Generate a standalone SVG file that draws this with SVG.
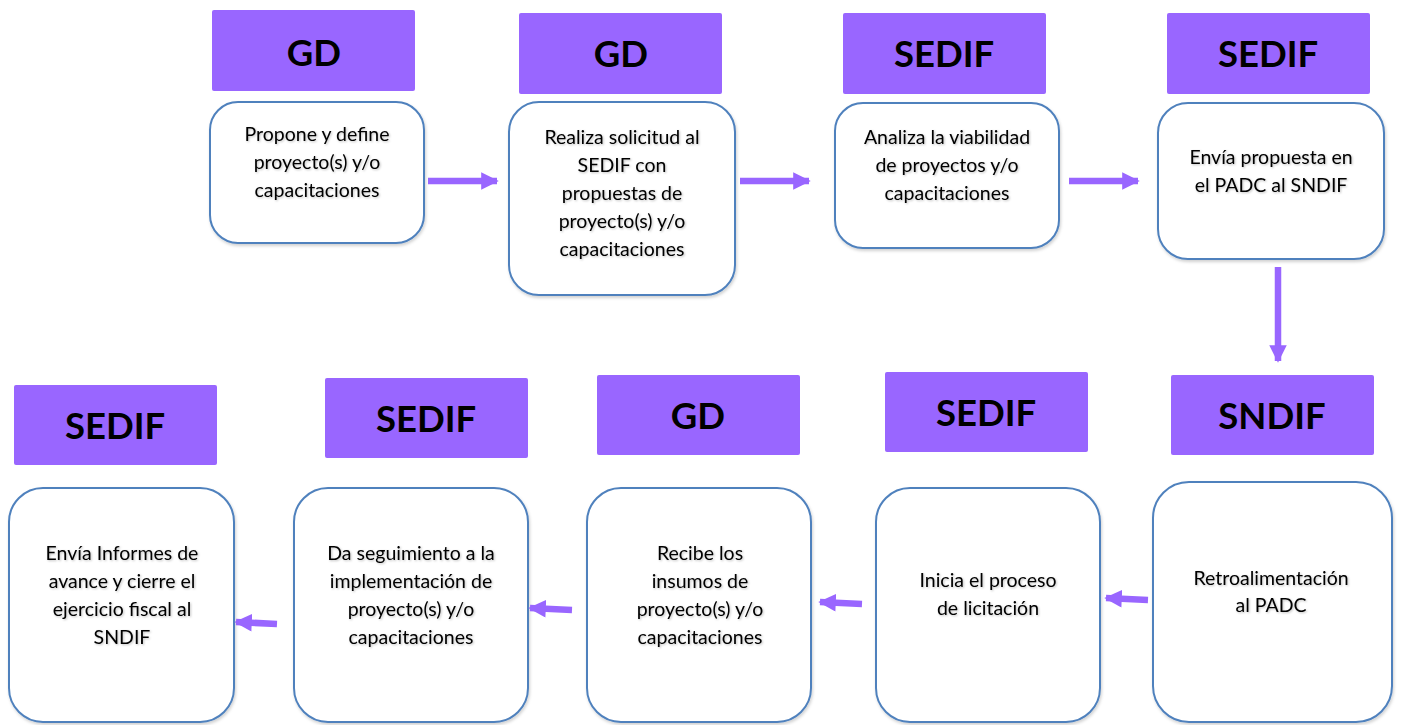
<svg xmlns="http://www.w3.org/2000/svg" width="1403" height="725" viewBox="0 0 1403 725">
<style>
.hdr{fill:#9966FF;}
.ht{font-family:Lato,"Open Sans",sans-serif;font-weight:bold;font-size:36.5px;fill:#000;text-anchor:middle;}
.box{fill:#fff;stroke:#4F81BD;stroke-width:2;}
.bt{font-family:Lato,"Liberation Sans",sans-serif;font-size:19.5px;fill:#000;text-anchor:middle;}
.con{stroke:#9966FF;stroke-width:6.5;fill:none;}
</style>
<defs>
<marker id="ah" viewBox="0 0 10 10" refX="9" refY="5" markerWidth="2.8" markerHeight="2.7" markerUnits="strokeWidth" orient="auto"><path d="M0,0 L10,5 L0,10 z" fill="#9966FF"/></marker>
<filter id="sh" x="-10%" y="-10%" width="120%" height="120%"><feDropShadow dx="1" dy="2" stdDeviation="1.5" flood-color="#000" flood-opacity="0.18"/></filter>
<filter id="ts" x="-5%" y="-20%" width="110%" height="140%"><feDropShadow dx="1" dy="1" stdDeviation="1" flood-color="#000" flood-opacity="0.25"/></filter>
</defs>

<g id="n1">
<rect class="hdr" x="212" y="10" width="203" height="81" rx="2"/>
<text class="ht" x="314" y="66">GD</text>
<rect class="box" x="210" y="102" width="214" height="141" rx="28" filter="url(#sh)"/>
<text class="bt" filter="url(#ts)"><tspan x="317" y="141">Propone y define</tspan><tspan x="317" y="169">proyecto(s) y/o</tspan><tspan x="317" y="197">capacitaciones</tspan></text>
</g>

<g id="n2">
<rect class="hdr" x="519" y="13" width="203" height="81" rx="2"/>
<text class="ht" x="621" y="67">GD</text>
<rect class="box" x="509" y="102" width="226" height="193" rx="30" filter="url(#sh)"/>
<text class="bt" filter="url(#ts)"><tspan x="622" y="144">Realiza solicitud al</tspan><tspan x="622" y="172">SEDIF con</tspan><tspan x="622" y="200">propuestas de</tspan><tspan x="622" y="228">proyecto(s) y/o</tspan><tspan x="622" y="256">capacitaciones</tspan></text>
</g>

<g id="n3">
<rect class="hdr" x="843" y="13" width="203" height="81" rx="2"/>
<text class="ht" x="944" y="67">SEDIF</text>
<rect class="box" x="835" y="103" width="224" height="145" rx="28" filter="url(#sh)"/>
<text class="bt" filter="url(#ts)"><tspan x="947" y="144">Analiza la viabilidad</tspan><tspan x="947" y="172">de proyectos y/o</tspan><tspan x="947" y="200">capacitaciones</tspan></text>
</g>

<g id="n4">
<rect class="hdr" x="1167" y="13" width="203" height="81" rx="2"/>
<text class="ht" x="1268" y="67">SEDIF</text>
<rect class="box" x="1158" y="103" width="226" height="156" rx="30" filter="url(#sh)"/>
<text class="bt" filter="url(#ts)"><tspan x="1271" y="164">Envía propuesta en</tspan><tspan x="1271" y="192">el PADC al SNDIF</tspan></text>
</g>

<g id="n5">
<rect class="hdr" x="1171" y="375" width="203" height="80" rx="2"/>
<text class="ht" x="1272" y="429">SNDIF</text>
<rect class="box" x="1153" y="482" width="239" height="240" rx="36" filter="url(#sh)"/>
<text class="bt" filter="url(#ts)"><tspan x="1271" y="585">Retroalimentación</tspan><tspan x="1271" y="612">al PADC</tspan></text>
</g>

<g id="n6">
<rect class="hdr" x="885" y="372" width="203" height="80" rx="2"/>
<text class="ht" x="986" y="426">SEDIF</text>
<rect class="box" x="876" y="488" width="224" height="234" rx="34" filter="url(#sh)"/>
<text class="bt" filter="url(#ts)"><tspan x="988" y="587">Inicia el proceso</tspan><tspan x="988" y="615">de licitación</tspan></text>
</g>

<g id="n7">
<rect class="hdr" x="597" y="375" width="203" height="80" rx="2"/>
<text class="ht" x="698" y="429">GD</text>
<rect class="box" x="587" y="488" width="224" height="234" rx="34" filter="url(#sh)"/>
<text class="bt" filter="url(#ts)"><tspan x="700" y="560">Recibe los</tspan><tspan x="700" y="588">insumos de</tspan><tspan x="700" y="616">proyecto(s) y/o</tspan><tspan x="700" y="644">capacitaciones</tspan></text>
</g>

<g id="n8">
<rect class="hdr" x="325" y="378" width="203" height="80" rx="2"/>
<text class="ht" x="426" y="432">SEDIF</text>
<rect class="box" x="294" y="488" width="234" height="234" rx="34" filter="url(#sh)"/>
<text class="bt" filter="url(#ts)"><tspan x="411" y="560">Da seguimiento a la</tspan><tspan x="411" y="588">implementación de</tspan><tspan x="411" y="616">proyecto(s) y/o</tspan><tspan x="411" y="644">capacitaciones</tspan></text>
</g>

<g id="n9">
<rect class="hdr" x="14" y="385" width="203" height="80" rx="2"/>
<text class="ht" x="115" y="439">SEDIF</text>
<rect class="box" x="9" y="488" width="225" height="234" rx="34" filter="url(#sh)"/>
<text class="bt" filter="url(#ts)"><tspan x="122" y="560">Envía Informes de</tspan><tspan x="122" y="588">avance y cierre el</tspan><tspan x="122" y="616">ejercicio fiscal al</tspan><tspan x="122" y="644">SNDIF</tspan></text>
</g>

<g id="connectors">
<line class="con" x1="428" y1="181" x2="497" y2="181" marker-end="url(#ah)"/>
<line class="con" x1="740" y1="181" x2="809" y2="181" marker-end="url(#ah)"/>
<line class="con" x1="1069" y1="181" x2="1138" y2="181" marker-end="url(#ah)"/>
<line class="con" x1="1278" y1="267" x2="1278" y2="361" marker-end="url(#ah)"/>
<line class="con" x1="1148" y1="600" x2="1106" y2="598" marker-end="url(#ah)"/>
<line class="con" x1="862" y1="604" x2="820" y2="602" marker-end="url(#ah)"/>
<line class="con" x1="572" y1="610" x2="530" y2="608" marker-end="url(#ah)"/>
<line class="con" x1="277" y1="624" x2="236" y2="622" marker-end="url(#ah)"/>
</g>
</svg>
